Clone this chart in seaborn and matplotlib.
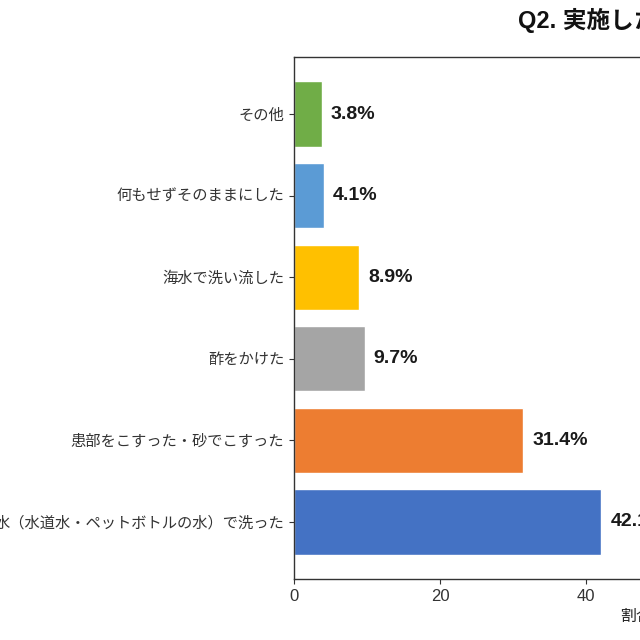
import matplotlib
matplotlib.use("Agg")
import matplotlib.pyplot as plt
import seaborn as sns
import pandas as pd

# data, top to bottom as drawn
categories = [
    "その他",
    "何もせずそのままにした",
    "海水で洗い流した",
    "酢をかけた",
    "患部をこすった・砂でこすった",
    "水（水道水・ペットボトルの水）で洗った",
]
percent = [3.8, 4.1, 8.9, 9.7, 31.4, 42.1]
bar_colors = ["#70AD47", "#5B9BD5", "#FFC000", "#A5A5A5", "#ED7D31", "#4472C4"]

title = "Q2. 実施した応急処置は？"
x_label = "割合（%）"

sns.set_style("ticks")
plt.rcParams["font.family"] = ["Liberation Sans", "Noto Sans CJK JP", "DejaVu Sans"]

df = pd.DataFrame({"item": categories, "pct": percent})

fig = plt.figure(figsize=(6.4, 6.4), dpi=100)
# the picture is a crop of a wider chart: axes run past the right edge
ax = fig.add_axes([294 / 640, 1 - 579 / 640, (1024 - 294) / 640, (579 - 57) / 640])

sns.barplot(data=df, x="pct", y="item", hue="item", palette=bar_colors,
            legend=False, width=0.8, saturation=1, orient="h", ax=ax)

for cont in ax.containers:
    ax.bar_label(cont, fmt="%.1f%%", padding=6.5, fontsize=14,
                 fontweight="bold", color="#1a1a1a")

ax.set_xlim(0, 100)
ax.set_ylim(len(categories) - 1 + 0.7, -0.7)
ax.set_xticks([0, 20, 40, 60, 80, 100])
ax.tick_params(axis="y", labelsize=11, colors="#333333")
ax.tick_params(axis="x", labelsize=12, colors="#333333")
ax.set_ylabel("")
ax.set_xlabel(x_label, fontsize=11.5, labelpad=4, color="#222222")
ax.set_title(title, fontsize=17, fontweight="bold", pad=21, color="#111111")

for s in ax.spines.values():
    s.set_color("#333333")
    s.set_linewidth(1.0)

fig.savefig("out.png", dpi=100)
